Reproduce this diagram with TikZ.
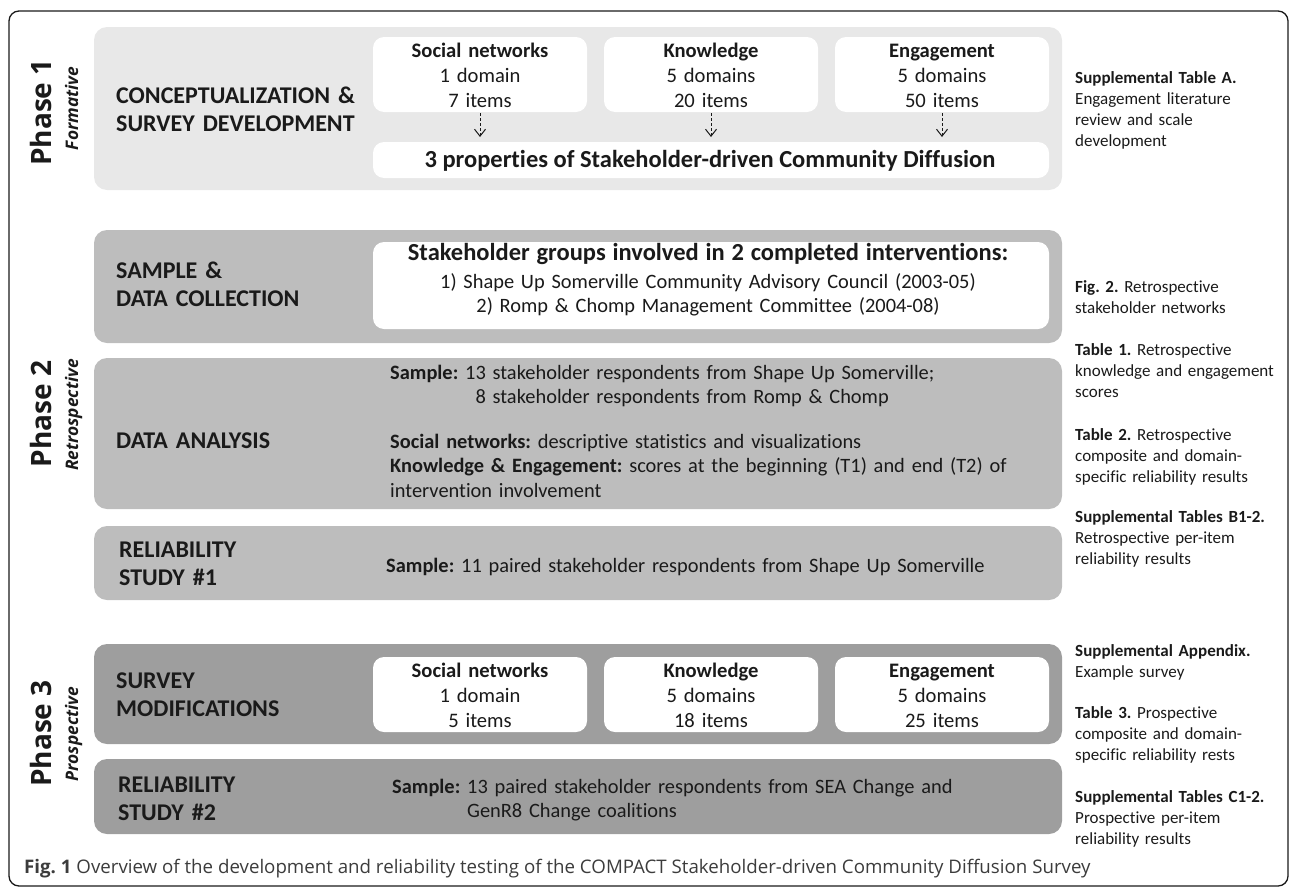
\documentclass[tikz,border=0pt]{standalone}
\usepackage{fontspec}
\setmainfont{Carlito}[Ligatures=NoCommon]
\newfontfamily\osans{Open Sans}
\usetikzlibrary{arrows.meta}
\definecolor{pone}{HTML}{E8E8E8}
\definecolor{ptwo}{HTML}{BDBDBD}
\definecolor{pthree}{HTML}{9E9E9E}
\definecolor{ink}{HTML}{1A1A1A}
\tikzset{
  panel/.style={inner sep=0pt, outer sep=0pt, rounded corners=13pt, draw=none},
  wbox/.style={fill=white, inner sep=0pt, outer sep=0pt, rounded corners=11pt, minimum width=214pt, minimum height=75pt},
  stagelbl/.style={anchor=base west, inner sep=0pt, text width=260pt, align=left, text=ink, font=\bfseries\fontsize{24}{28}\selectfont},
  boxtxt/.style={anchor=base, inner sep=0pt, text width=210pt, align=center, text=ink, font=\fontsize{20.6}{25}\selectfont},
  bodytxt/.style={anchor=base west, inner sep=0pt, text width=680pt, align=left, text=ink, font=\fontsize{20.4}{24.5}\selectfont},
  sidetxt/.style={anchor=base west, inner sep=0pt, text width=215pt, align=left, text=ink, font=\fontsize{17}{21}\selectfont},
  phaselbl/.style={anchor=base, rotate=90, inner sep=0pt, text=ink, font=\osans\bfseries\fontsize{28}{30}\selectfont},
  phasesub/.style={anchor=base, rotate=90, inner sep=0pt, text=ink, font=\osans\bfseries\itshape\fontsize{17.3}{20}\selectfont},
  flowarrow/.style={draw=ink, line width=1pt, dash pattern=on 3pt off 2pt, shorten <=1pt, shorten >=5pt, -{Straight Barb[length=7pt,width=11pt,line width=1pt]}},
}
\frenchspacing
\begin{document}
\frenchspacing
\begin{tikzpicture}[x=1pt,y=-1pt]
\useasboundingbox (0,0) rectangle (1290,889);
% outer frame
\node[draw=ink, line width=1.3pt, rounded corners=10pt, minimum width=1279pt, minimum height=875pt, inner sep=0pt] (frame) at (648.5,448.5) {};

% ---------- Phase 1 ----------
\node[panel, fill=pone, minimum width=968pt, minimum height=163pt] (p1) at (578,108.5) {};
\node[wbox] (sn1) at (480,74.5) {};
\node[wbox] (kn1) at (711,74.5) {};
\node[wbox] (en1) at (942,74.5) {};
\node[fill=white, inner sep=0pt, outer sep=0pt, rounded corners=11pt, minimum width=676pt, minimum height=36pt] (prop) at (711,160) {};
\node[boxtxt] (sn1t) at (480,57) {\textbf{Social networks}\\1 domain\\7 items};
\node[boxtxt] (kn1t) at (711,57) {\textbf{Knowledge}\\5 domains\\20 items};
\node[boxtxt] (en1t) at (942,57) {\textbf{Engagement}\\5 domains\\50 items};
\node[anchor=base, inner sep=0pt, text=ink, font=\bfseries\fontsize{24.5}{26}\selectfont] (propt) at (710,167) {3 properties of Stakeholder-driven Community Diffusion};
\draw[flowarrow] (sn1) -- (sn1 |- prop.north);
\draw[flowarrow] (kn1) -- (kn1 |- prop.north);
\draw[flowarrow] (en1) -- (en1 |- prop.north);
\node[stagelbl] (l1) at (116,103) {CONCEPTUALIZATION \&\\SURVEY DEVELOPMENT};
\node[phaselbl] (ph1) at (51,112.5) {Phase 1};
\node[phasesub] (ph1s) at (78,108.5) {Formative};
\node[sidetxt] (s1) at (1075,83) {\textbf{Supplemental Table A.}\\Engagement literature\\review and scale\\development};

% ---------- Phase 2 ----------
\node[panel, fill=ptwo, minimum width=968pt, minimum height=113pt] (p2a) at (578,286.5) {};
\node[fill=white, inner sep=0pt, outer sep=0pt, rounded corners=11pt, minimum width=676pt, minimum height=87pt] (grp) at (711,285.5) {};
\node[anchor=base, inner sep=0pt, text width=670pt, align=center, text=ink, font=\fontsize{20.4}{24}\selectfont] (grpt) at (708,260)
  {{\bfseries\fontsize{24.5}{26}\selectfont Stakeholder groups involved in 2 completed interventions:}\\[4pt]1) Shape Up Somerville Community Advisory Council (2003-05)\\2) Romp \& Chomp Management Committee (2004-08)};
\node[stagelbl] (l2) at (116,278) {SAMPLE \&\\DATA COLLECTION};

\node[panel, fill=ptwo, minimum width=968pt, minimum height=151pt] (p2b) at (578,433.5) {};
\node[stagelbl] (l3) at (116,448) {DATA ANALYSIS};
\node[bodytxt] (da1) at (390,379) {\textbf{Sample:} 13 stakeholder respondents from Shape Up Somerville;\\\phantom{\textbf{Sample:} 1}8 stakeholder respondents from Romp \& Chomp};
\node[bodytxt] (da2) at (390,448) {\textbf{Social networks:} descriptive statistics and visualizations\\\textbf{Knowledge \& Engagement:} scores at the beginning (T1) and end (T2) of\\intervention involvement};

\node[panel, fill=ptwo, minimum width=968pt, minimum height=74pt] (p2c) at (578,563) {};
\node[stagelbl] (l4) at (119,557) {RELIABILITY\\STUDY \#1};
\node[bodytxt] (rs1) at (386,572) {\textbf{Sample:} 11 paired stakeholder respondents from Shape Up Somerville};

\node[phaselbl] (ph2) at (51,414) {Phase 2};
\node[phasesub] (ph2s) at (78,415) {Retrospective};
\node[sidetxt] (s2) at (1075,292) {\textbf{Fig. 2.} Retrospective\\stakeholder networks};
\node[sidetxt] (s3) at (1075,355) {\textbf{Table 1.} Retrospective\\knowledge and engagement\\scores};
\node[sidetxt] (s4) at (1075,440) {\textbf{Table 2.} Retrospective\\composite and domain-\\specific reliability results};
\node[sidetxt] (s5) at (1075,522) {\textbf{Supplemental Tables B1-2.}\\Retrospective per-item\\reliability results};

% ---------- Phase 3 ----------
\node[panel, fill=pthree, minimum width=968pt, minimum height=100pt] (p3a) at (578,694) {};
\node[wbox] (sn3) at (480,694.5) {};
\node[wbox] (kn3) at (711,694.5) {};
\node[wbox] (en3) at (942,694.5) {};
\node[boxtxt] (sn3t) at (480,677) {\textbf{Social networks}\\1 domain\\5 items};
\node[boxtxt] (kn3t) at (711,677) {\textbf{Knowledge}\\5 domains\\18 items};
\node[boxtxt] (en3t) at (942,677) {\textbf{Engagement}\\5 domains\\25 items};
\node[stagelbl] (l5) at (116,688) {SURVEY\\MODIFICATIONS};

\node[panel, fill=pthree, minimum width=968pt, minimum height=75pt] (p3b) at (578,796.5) {};
\node[stagelbl] (l6) at (118,792) {RELIABILITY\\STUDY \#2};
\node[bodytxt] (rs2) at (392,793) {\textbf{Sample:} 13 paired stakeholder respondents from SEA Change and\\\phantom{\textbf{Sample:} }GenR8 Change coalitions};

\node[phaselbl] (ph3) at (51,733.5) {Phase 3};
\node[phasesub] (ph3s) at (78,734) {Prospective};
\node[sidetxt] (s6) at (1075,656) {\textbf{Supplemental Appendix.}\\Example survey};
\node[sidetxt] (s7) at (1075,718) {\textbf{Table 3.} Prospective\\composite and domain-\\specific reliability rests};
\node[sidetxt] (s8) at (1075,802) {\textbf{Supplemental Tables C1-2.}\\Prospective per-item\\reliability results};

% caption
\node[anchor=base west, inner sep=0pt, text=ink!85, font=\osans\fontsize{18.7}{20}\selectfont] (cap) at (24,873)
  {\textbf{Fig. 1} Overview of the development and reliability testing of the COMPACT Stakeholder-driven Community Diffusion Survey};
\end{tikzpicture}
\end{document}
